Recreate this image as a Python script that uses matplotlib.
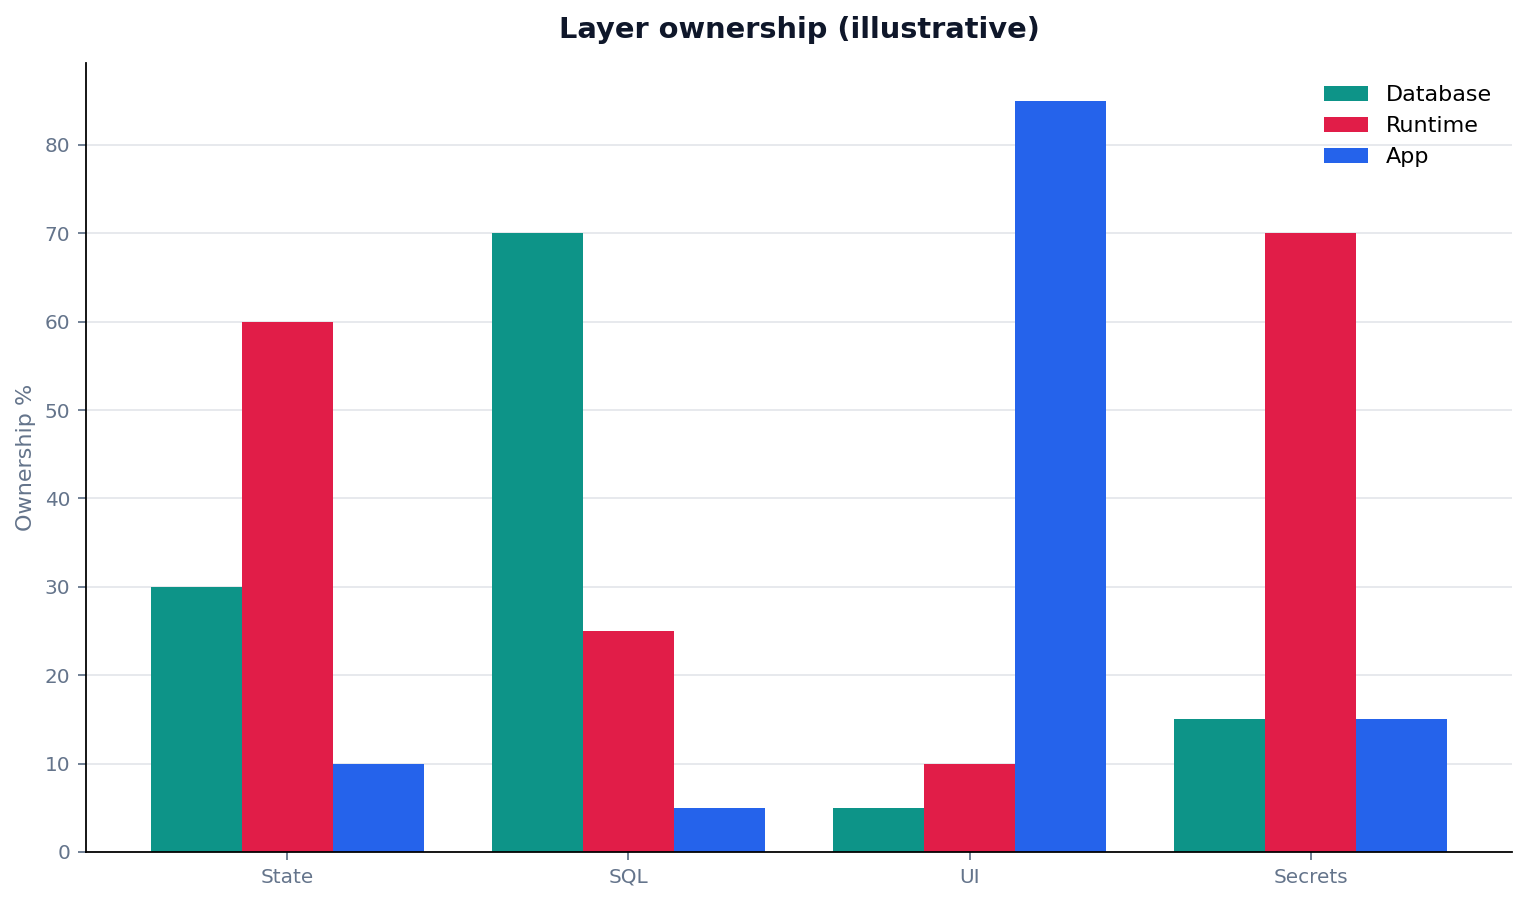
import matplotlib
matplotlib.use("Agg")
import matplotlib.pyplot as plt
import numpy as np

plt.rcParams['font.family'] = ['DejaVu Sans']

layers = ["State", "SQL", "UI", "Secrets"]
database = [30, 70, 5, 15]
runtime = [60, 25, 10, 70]
app = [10, 5, 85, 15]

fig = plt.figure(figsize=(9.55, 5.64375), dpi=160)
ax = fig.add_axes([0.0563, 0.0565, 0.9332, 0.8735])

x = np.arange(len(layers))
w = 0.8 / 3
ax.bar(x - w, database, w, label="Database", color="#0d9488")
ax.bar(x, runtime, w, label="Runtime", color="#e11d48")
ax.bar(x + w, app, w, label="App", color="#2563eb")

ax.set_xticks(x)
ax.set_xticklabels(layers)
ax.set_ylabel("Ownership %", fontsize=10, color="#64748b")
ax.set_title("Layer ownership (illustrative)", fontsize=13, fontweight="bold",
             color="#0f172a", pad=11.5)
ax.tick_params(colors="#64748b", labelsize=9)
ax.yaxis.grid(True, color="#e5e7eb", linewidth=0.8)
ax.set_axisbelow(True)
for s in ["top", "right"]:
    ax.spines[s].set_visible(False)
ax.legend(frameon=False, fontsize=10, loc="upper right",
          bbox_to_anchor=(1, 0.9975))

fig.savefig("out.png", dpi=160)
